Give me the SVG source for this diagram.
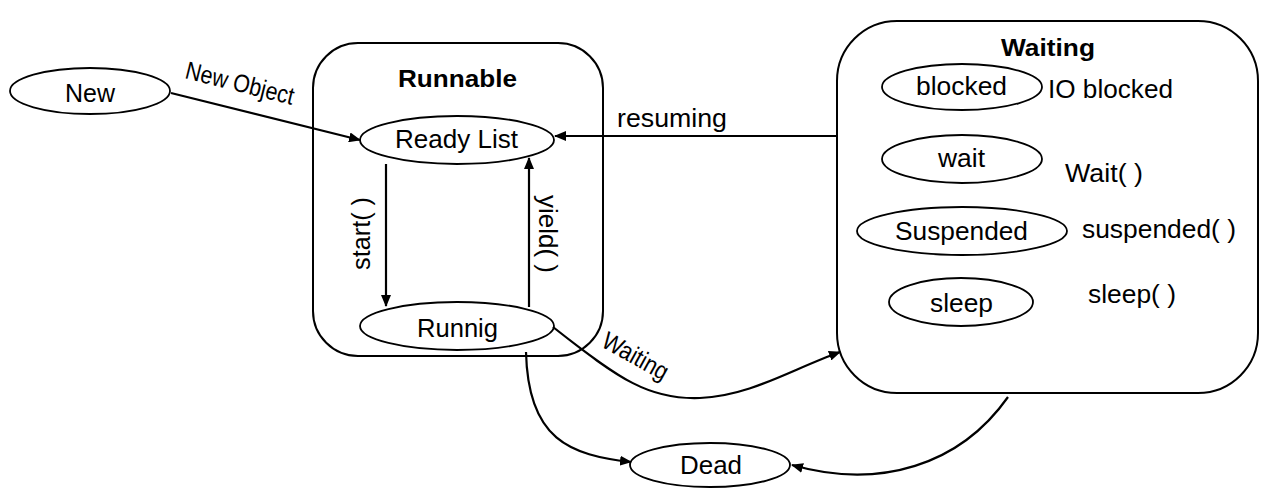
<svg xmlns="http://www.w3.org/2000/svg" width="1262" height="488" viewBox="0 0 1262 488">
<style>
.n{fill:#fff;stroke:#000;stroke-width:1.8}
.box{fill:#fff;stroke:#000;stroke-width:2}
text{font-family:"Liberation Sans",Arial,sans-serif;font-size:25px;fill:#000}
.b{font-weight:bold;font-size:24px}
.c{fill:none;stroke:#000;stroke-width:2.2}
</style>
<defs>
<marker id="ah" viewBox="0 0 12 10" refX="11" refY="5" markerWidth="12" markerHeight="10" markerUnits="userSpaceOnUse" orient="auto">
<path d="M0,0 L12,5 L0,10 Z" fill="#000"/>
</marker>
</defs>
<g id="runnable">
<rect class="box" x="313" y="43" width="290" height="313" rx="45"/>
<text class="b" x="398" y="87" textLength="119" lengthAdjust="spacingAndGlyphs">Runnable</text>
</g>
<g id="waiting">
<rect class="box" x="837" y="21" width="421" height="372" rx="60"/>
<text class="b" x="1001" y="56" textLength="94" lengthAdjust="spacingAndGlyphs">Waiting</text>
</g>
<g id="new">
<ellipse class="n" cx="90" cy="91" rx="80" ry="23"/>
<text x="65" y="102" textLength="50" lengthAdjust="spacingAndGlyphs">New</text>
</g>
<g id="ready">
<ellipse class="n" cx="457" cy="140" rx="97" ry="24"/>
<text x="395" y="148" textLength="123" lengthAdjust="spacingAndGlyphs">Ready List</text>
</g>
<g id="running">
<ellipse class="n" cx="457" cy="326" rx="97" ry="24"/>
<text x="417" y="337" textLength="81" lengthAdjust="spacingAndGlyphs">Runnig</text>
</g>
<g id="dead">
<ellipse class="n" cx="710" cy="465" rx="80" ry="22"/>
<text x="680" y="474" textLength="62" lengthAdjust="spacingAndGlyphs">Dead</text>
</g>
<g id="blocked">
<ellipse class="n" cx="962" cy="87" rx="80" ry="23"/>
<text x="916" y="95" textLength="91" lengthAdjust="spacingAndGlyphs">blocked</text>
<text x="1048" y="98" textLength="125" lengthAdjust="spacingAndGlyphs">IO blocked</text>
</g>
<g id="wait">
<ellipse class="n" cx="962" cy="159" rx="80" ry="24"/>
<text x="938" y="167" textLength="47" lengthAdjust="spacingAndGlyphs">wait</text>
<text x="1065" y="182" textLength="78" lengthAdjust="spacingAndGlyphs">Wait( )</text>
</g>
<g id="suspended">
<ellipse class="n" cx="962" cy="231" rx="105" ry="24"/>
<text x="895" y="240" textLength="133" lengthAdjust="spacingAndGlyphs">Suspended</text>
<text x="1082" y="238" textLength="154" lengthAdjust="spacingAndGlyphs">suspended( )</text>
</g>
<g id="sleep">
<ellipse class="n" cx="961" cy="302" rx="72" ry="24"/>
<text x="930" y="312" textLength="63" lengthAdjust="spacingAndGlyphs">sleep</text>
<text x="1088" y="303" textLength="88" lengthAdjust="spacingAndGlyphs">sleep( )</text>
</g>
<g id="connectors">
<line class="c" x1="171" y1="93" x2="360" y2="140" marker-end="url(#ah)"/>
<text transform="translate(184,78) rotate(14)" textLength="111" lengthAdjust="spacingAndGlyphs">New Object</text>
<line class="c" x1="837" y1="136" x2="555" y2="136" marker-end="url(#ah)"/>
<text x="617" y="127" textLength="110" lengthAdjust="spacingAndGlyphs">resuming</text>
<line class="c" x1="386" y1="164" x2="386" y2="306" marker-end="url(#ah)"/>
<text transform="translate(370,270) rotate(-90)" textLength="73" lengthAdjust="spacingAndGlyphs">start( )</text>
<line class="c" x1="529" y1="307" x2="529" y2="158" marker-end="url(#ah)"/>
<text transform="translate(539,195) rotate(90)" textLength="78" lengthAdjust="spacingAndGlyphs">yield( )</text>
<path class="c" d="M553,327 C620,380 650,400 700,398 C750,396 790,370 840,352" marker-end="url(#ah)"/>
<text transform="translate(600,346) rotate(29)" textLength="72" lengthAdjust="spacingAndGlyphs">Waiting</text>
<path class="c" d="M526,352 C528,440 570,455 631,462" marker-end="url(#ah)"/>
<path class="c" d="M1008,397 C960,465 880,490 792,465" marker-end="url(#ah)"/>
</g>
</svg>
